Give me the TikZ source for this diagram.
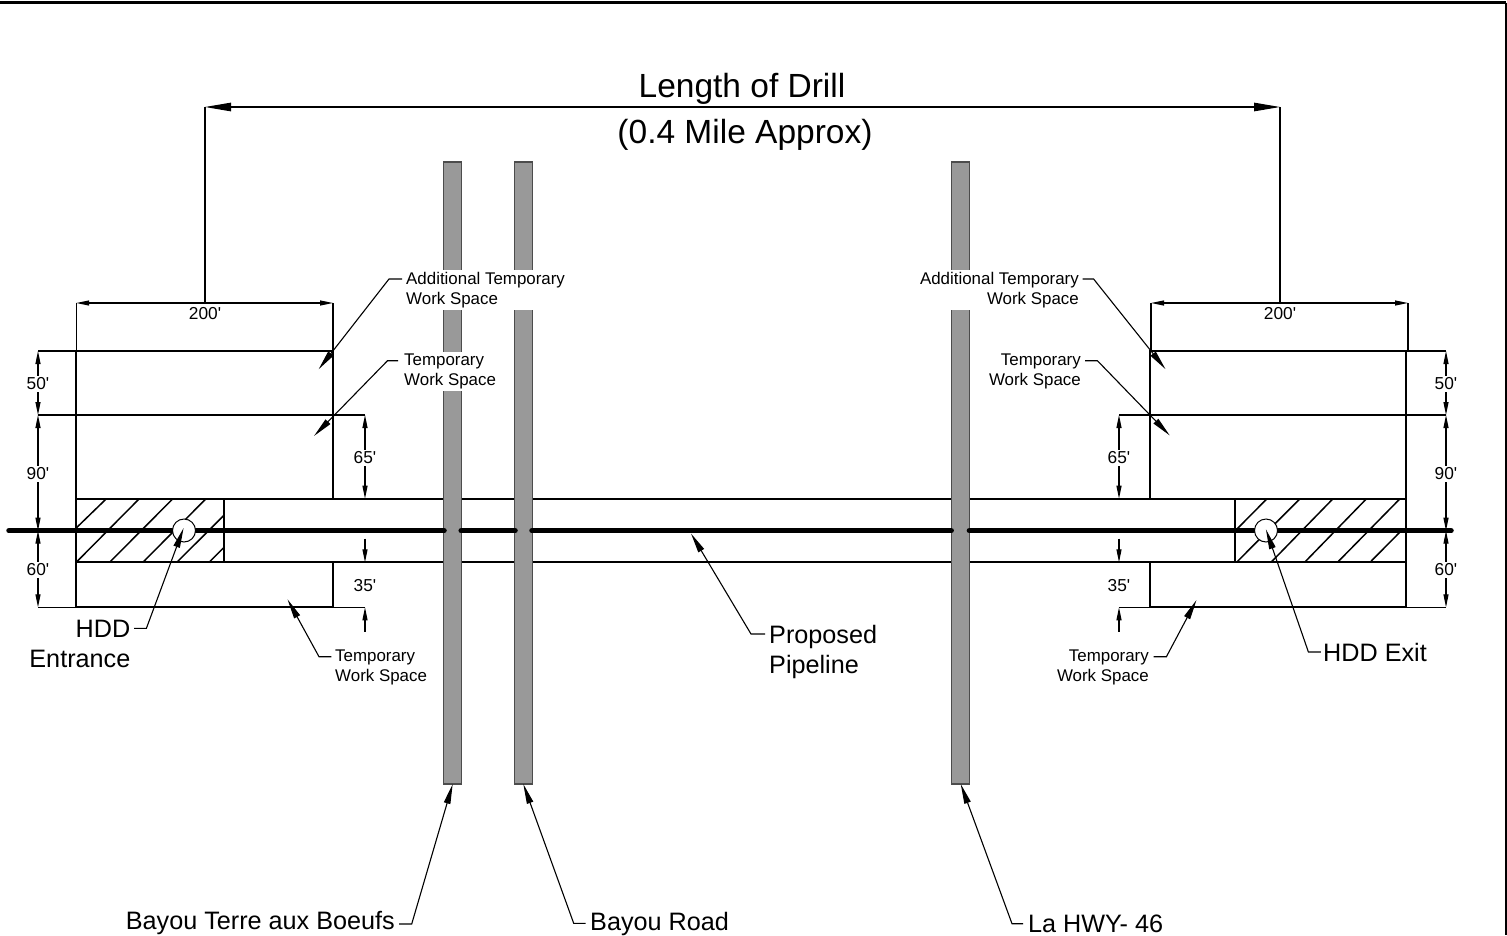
\documentclass[tikz,border=0pt]{standalone}
\usepackage{fontspec}
\usetikzlibrary{arrows.meta}
\newfontfamily\lab{Liberation Sans}
\newcommand{\ft}{'}
\definecolor{roadgrey}{HTML}{999999}
\tikzset{
  outline/.style={line width=2pt,black},
  ext/.style={line width=1.1pt,black},
  hatchline/.style={line width=1.5pt,black},
  dimline/.style={line width=1.1pt,black,{Triangle[length=13pt,width=5pt]}-{Triangle[length=13pt,width=5pt]}},
  dimend/.style={line width=1.1pt,black,-{Triangle[length=13pt,width=5pt]}},
  topdim/.style={line width=1.1pt,black,{Triangle[length=26pt,width=8.5pt]}-{Triangle[length=26pt,width=8.5pt]}},
  leader/.style={line width=1.1pt,black,-{Triangle[length=20pt,width=6.5pt]}},
  road/.style={draw=black!70,line width=1.1pt,fill=roadgrey,rectangle,inner sep=0pt,outer sep=0pt,minimum width=17.6pt,minimum height=622pt},
  pipe/.style={line width=5.5pt,black,line cap=round},
  hole/.style={circle,draw=black,line width=1pt,fill=white,inner sep=0pt,minimum size=23pt},
  tiny/.style={font=\lab\fontsize{16.9}{20}\selectfont,inner xsep=2pt,inner ysep=2pt},
  dimlab/.style={font=\lab\fontsize{17.3}{20}\selectfont,fill=white,inner xsep=1pt,inner ysep=2pt,yshift=-1pt},
  plainlab/.style={font=\lab\fontsize{17.3}{20}\selectfont,inner sep=0pt},
  mid/.style={font=\lab\fontsize{25.2}{30}\selectfont,inner sep=0pt},
  big/.style={font=\lab\fontsize{33.5}{40}\selectfont,inner sep=0pt},
}
\begin{document}
\begin{tikzpicture}[x=1pt,y=-1pt]
\useasboundingbox (0,0) rectangle (1507,935);
% frame
\coordinate (fTL) at (0,2.5); \coordinate (fTR) at (1506,2.5); \coordinate (fBR) at (1506,935);
\draw[line width=3pt,black] (fTL) -- (fTR);
\draw[line width=2pt,black] (fTR) -- (fBR);
% hatching left
\foreach \a/\b/\c/\d in {76.2/528/106.4/498.7, 76.2/562.3/139.3/498.7, 109.6/562.3/172.9/498.7, 142.9/562.3/206/498.7, 176.8/562.3/224.3/515, 209/562.3/224.3/547}
  \draw[hatchline] (\a,\b) -- (\c,\d);
% hatching right
\foreach \a/\b/\c/\d in {1236/530/1267/498.7, 1236.5/562.3/1300/498.7, 1271/562.3/1333/498.7, 1304.6/562.3/1366.5/498.7, 1337.5/562.3/1400/498.7, 1370/562.3/1400/532}
  \draw[hatchline] (\a,\b) -- (\c,\d);
% work-space boxes left
\draw[outline] (76.2,351) rectangle (333,415);
\draw[outline] (76.2,415) rectangle (333,498.7);
\draw[outline] (76.2,562.3) rectangle (333,607.3);
\draw[outline] (76.2,498.7) rectangle (224.3,562.3);
% work-space boxes right
\draw[outline] (1149.7,351) rectangle (1406,415);
\draw[outline] (1149.7,415) rectangle (1406,498.7);
\draw[outline] (1149.7,562.3) rectangle (1406,607.3);
\draw[outline] (1235,498.7) rectangle (1406,562.3);
% corridor
\draw[line width=1.9pt] (224.3,498.7) -- (1235,498.7);
\draw[line width=1.9pt] (224.3,562.3) -- (1235,562.3);
% roads
\node[road] (road1) at (452.7,473) {};
\node[road] (road2) at (523.3,473) {};
\node[road] (road3) at (960.7,473) {};
% extension lines
\draw[ext] (76.2,303) -- (76.2,351);
\draw[ext] (333,303) -- (333,351);
\draw[ext] (1151,303) -- (1151,351);
\draw[ext] (1408,303) -- (1408,351);
\draw[ext] (205,107) -- (205,303);
\draw[ext] (1280,107) -- (1280,303);
\draw[ext] (38,351) -- (76.2,351);
\draw[ext] (38,415) -- (76.2,415);
\draw[ext] (38,607.3) -- (76.2,607.3);
\draw[ext] (1406,351) -- (1446,351);
\draw[ext] (1406,415) -- (1446,415);
\draw[ext] (1406,607.3) -- (1446,607.3);
\draw[ext] (333,415) -- (365,415);
\draw[ext] (333,607.3) -- (365,607.3);
\draw[ext] (1119,415) -- (1149.7,415);
\draw[ext] (1119,607.3) -- (1149.7,607.3);
% pipeline
\coordinate (p0) at (9,530.7); \coordinate (p1) at (172.5,530.7); \coordinate (p2) at (195.5,530.7);
\coordinate (p3) at (444,530.7); \coordinate (p4) at (461.2,530.7); \coordinate (p5) at (515,530.7);
\coordinate (p6) at (532,530.7); \coordinate (p7) at (951.2,530.7); \coordinate (p8) at (969.4,530.7);
\coordinate (p9) at (1254.5,530.7); \coordinate (p10) at (1277.5,530.7); \coordinate (p11) at (1451,530.7);
\draw[pipe] (p0) -- (p1);
\draw[pipe] (p2) -- (p3);
\draw[pipe] (p4) -- (p5);
\draw[pipe] (p6) -- (p7);
\draw[pipe] (p8) -- (p9);
\draw[pipe] (p10) -- (p11);
\node[hole] (hddL) at (184,530.5) {};
\node[hole] (hddR) at (1266,530.5) {};
% title dimension
\coordinate (tA) at (205,107); \coordinate (tB) at (1280,107);
\draw[topdim] (tA) -- (tB);
\node[big] (title1) at (742,89) {Length of Drill};
\node[big] (title2) at (745,135) {(0.4 Mile Approx)};
% 200 ft dimensions
\coordinate (wLa) at (76.2,303); \coordinate (wLb) at (333,303);
\coordinate (wRa) at (1151,303); \coordinate (wRb) at (1408,303);
\draw[dimline] (wLa) -- (wLb);
\draw[dimline] (wRa) -- (wRb);
\node[plainlab] (w200L) at (205,314) {200\ft};
\node[plainlab] (w200R) at (1280,314) {200\ft};
% left vertical dimensions
\coordinate (lv0) at (38,351); \coordinate (lv1) at (38,415); \coordinate (lv2) at (38,530.7); \coordinate (lv3) at (38,607.3);
\draw[dimline] (lv0) -- node[dimlab] (d50L) {50\ft} (lv1);
\draw[dimline] (lv1) -- node[dimlab] (d90L) {90\ft} (lv2);
\draw[dimline] (lv2) -- node[dimlab] (d60L) {60\ft} (lv3);
% right vertical dimensions
\coordinate (rv0) at (1446,351); \coordinate (rv1) at (1446,415); \coordinate (rv2) at (1446,530.7); \coordinate (rv3) at (1446,607.3);
\draw[dimline] (rv0) -- node[dimlab] (d50R) {50\ft} (rv1);
\draw[dimline] (rv1) -- node[dimlab] (d90R) {90\ft} (rv2);
\draw[dimline] (rv2) -- node[dimlab] (d60R) {60\ft} (rv3);
% inner dimensions left
\coordinate (i65a) at (365,415); \coordinate (i65b) at (365,498.7);
\draw[dimline] (i65a) -- node[dimlab] (d65L) {65\ft} (i65b);
\coordinate (i35a) at (365,538.7); \coordinate (i35b) at (365,562.3); \coordinate (i35c) at (365,631.7); \coordinate (i35d) at (365,607.3);
\draw[dimend] (i35a) -- (i35b);
\draw[dimend] (i35c) -- (i35d);
\node[plainlab] (d35L) at (365,586) {35\ft};
% inner dimensions right
\coordinate (j65a) at (1119,415); \coordinate (j65b) at (1119,498.7);
\draw[dimline] (j65a) -- node[dimlab] (d65R) {65\ft} (j65b);
\coordinate (j35a) at (1119,538.7); \coordinate (j35b) at (1119,562.3); \coordinate (j35c) at (1119,631.7); \coordinate (j35d) at (1119,607.3);
\draw[dimend] (j35a) -- (j35b);
\draw[dimend] (j35c) -- (j35d);
\node[plainlab] (d35R) at (1119,586) {35\ft};
% small labels (white ground breaks the roads behind them)
\node[tiny,fill=white,align=left,anchor=west] (atwsL) at (404,290) {Additional Temporary\\Work Space};
\node[tiny,fill=white,align=left,anchor=west] (twsL) at (402,371.5) {Temporary\\Work Space};
\node[tiny,fill=white,align=right,anchor=east] (atwsR) at (1081,290) {Additional Temporary\\Work Space};
\node[tiny,fill=white,align=right,anchor=east] (twsR) at (1083,371.5) {Temporary\\Work Space};
\node[tiny,align=left,anchor=west] (twsLb) at (333,667.5) {Temporary\\Work Space};
\node[tiny,align=right,anchor=east] (twsRb) at (1151,667.5) {Temporary\\Work Space};
% leaders to the work spaces
\coordinate (a1) at (402,279); \coordinate (a2) at (389,279); \coordinate (a3) at (318.6,369.3);
\draw[leader] (a1) -- (a2) -- (a3);
\coordinate (b1) at (398,360.7); \coordinate (b2) at (387.5,360.7); \coordinate (b3) at (314,436);
\draw[leader] (b1) -- (b2) -- (b3);
\coordinate (c1) at (1082.7,279); \coordinate (c2) at (1093.6,279); \coordinate (c3) at (1165.6,369.3);
\draw[leader] (c1) -- (c2) -- (c3);
\coordinate (e1) at (1085,360.7); \coordinate (e2) at (1097.4,360.7); \coordinate (e3) at (1169.8,435.5);
\draw[leader] (e1) -- (e2) -- (e3);
\coordinate (f1) at (331.4,656.7); \coordinate (f2) at (319,656.7); \coordinate (f3) at (287.5,599.3);
\draw[leader] (f1) -- (f2) -- (f3);
\coordinate (g1) at (1153.6,656.7); \coordinate (g2) at (1166.4,656.7); \coordinate (g3) at (1196.5,600);
\draw[leader] (g1) -- (g2) -- (g3);
% HDD labels
\node[mid,align=right,anchor=east] (hddLlab) at (130.5,644) {HDD\\Entrance};
\coordinate (h1) at (134,628.3); \coordinate (h2) at (146.4,628.3); \coordinate (h3) at (183.6,528);
\draw[leader] (h1) -- (h2) -- (h3);
\node[mid,anchor=west] (hddRlab) at (1323,652.5) {HDD Exit};
\coordinate (k1) at (1320.8,652); \coordinate (k2) at (1308.4,652); \coordinate (k3) at (1265.9,529.3);
\draw[leader] (k1) -- (k2) -- (k3);
% pipeline label
\node[mid,align=left,anchor=west] (pipelab) at (769,651.5) {Proposed\\Pipeline};
\coordinate (m1) at (765,634); \coordinate (m2) at (751,634); \coordinate (m3) at (691,533.5);
\draw[leader] (m1) -- (m2) -- (m3);
% road labels
\node[mid,anchor=east] (r1lab) at (395,923) {Bayou Terre aux Boeufs};
\coordinate (n1) at (399,924); \coordinate (n2) at (411.7,924);
\draw[leader] (n1) -- (n2) -- (road1.south);
\node[mid,anchor=west] (r2lab) at (590,923.5) {Bayou Road};
\coordinate (o1) at (585.7,923.3); \coordinate (o2) at (573.7,923.3);
\draw[leader] (o1) -- (o2) -- (road2.south);
\node[mid,anchor=west] (r3lab) at (1028,923.5) {La HWY- 46};
\coordinate (q1) at (1023,923.7); \coordinate (q2) at (1012,923.7);
\draw[leader] (q1) -- (q2) -- (road3.south);
\end{tikzpicture}
\end{document}
